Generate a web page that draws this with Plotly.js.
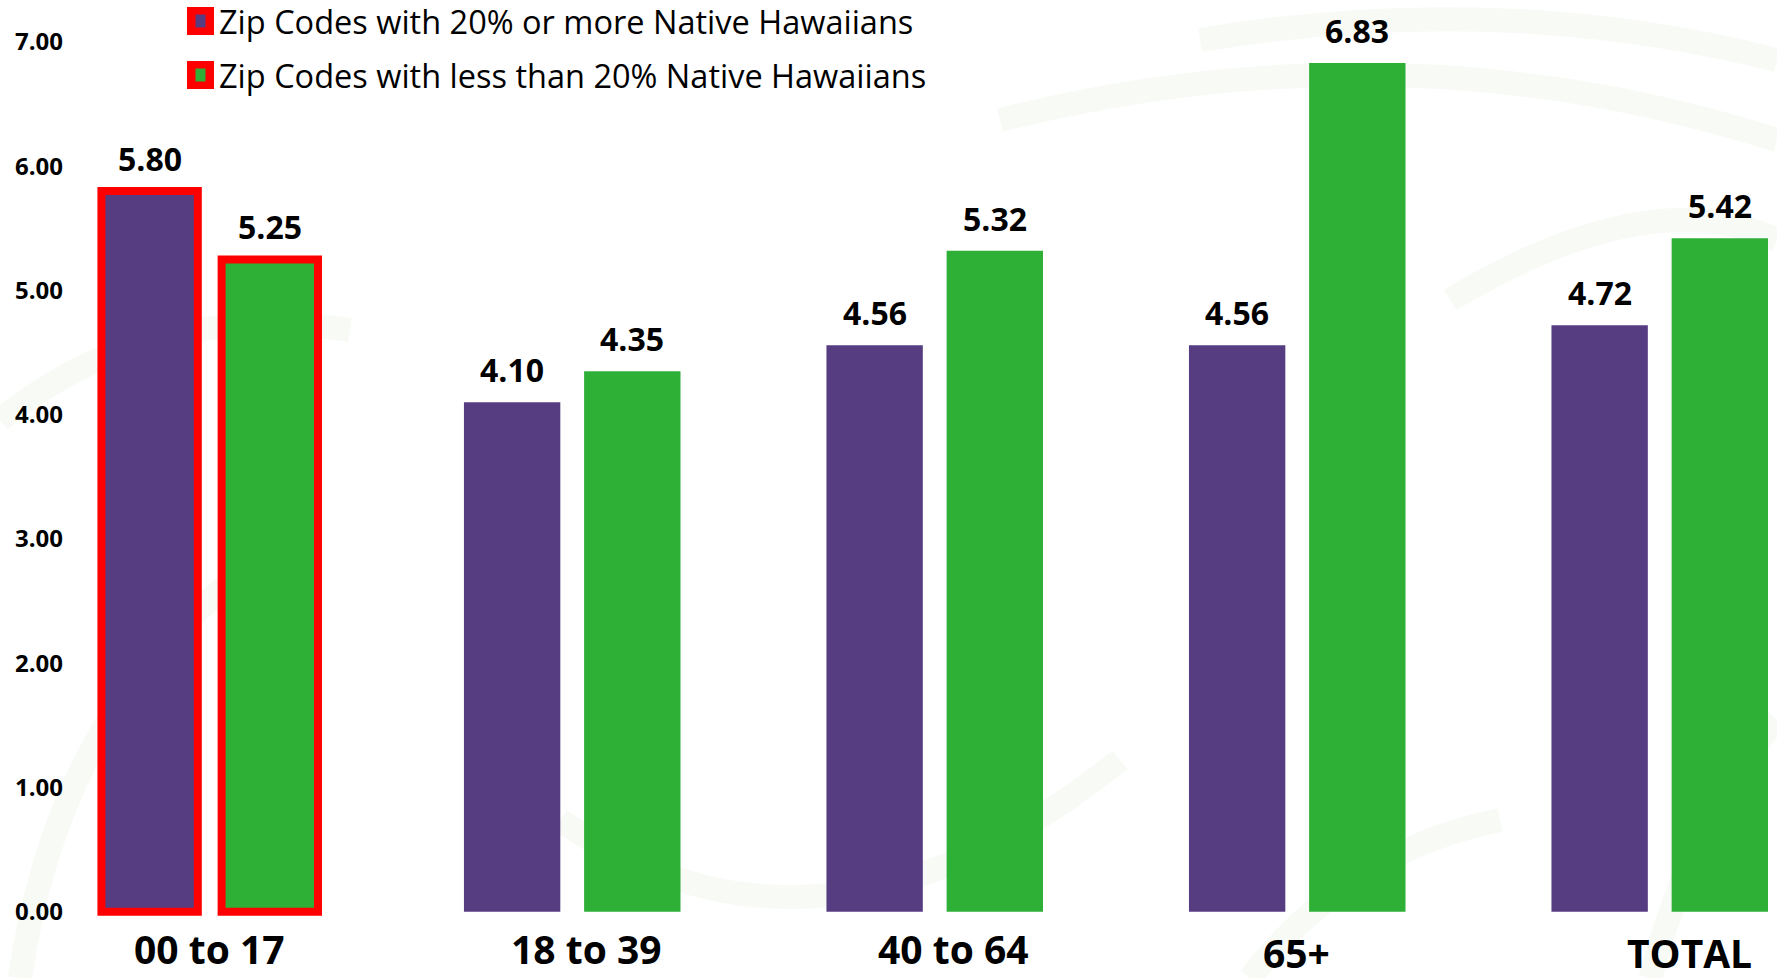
<!DOCTYPE html>
<html>
<head>
<meta charset="utf-8">
<script src="https://cdn.plot.ly/plotly-3.0.1.min.js"></script>
<style>
  html, body { margin: 0; padding: 0; background: #ffffff; }
  #chart { width: 1777px; height: 978px; }
</style>
</head>
<body>
<div id="chart"></div>
<script>
// Age groups along the x axis
const categories = ['00 to 17', '18 to 39', '40 to 64', '65+', 'TOTAL'];

// Series names
const seriesNames = [
  'Zip Codes with 20% or more Native Hawaiians',
  'Zip Codes with less than 20% Native Hawaiians'
];

// Values per age group
const highNativeHawaiian = [5.80, 4.10, 4.56, 4.56, 4.72];
const lowNativeHawaiian = [5.25, 4.35, 5.32, 6.83, 5.42];

// Y axis ticks
const yTicks = [0, 1, 2, 3, 4, 5, 6, 7];

// Category that gets the red outline
const highlighted = '00 to 17';

const PURPLE = '#563d82';
const GREEN = '#2eaf36';
const RED = '#ff0000';

const W = 1777, H = 978;
const M = { l: 70, r: 0, t: 0, b: 60 };
const plotW = W - M.l - M.r;
const plotH = H - M.t - M.b;

const BARGAP = 0.337;
const slot = (1 - BARGAP) / 2;   // width of one bar slot, in category units

// hand-placed category captions: horizontal nudge and vertical centre, in px
const captionNudgeX = [0, 14, 19, -1, 30];
const captionCenterY = [948, 948, 948, 952, 952];

function outlineWidths() {
  return categories.map(c => (c === highlighted ? 8 : 0));
}

const series = [
  { name: seriesNames[0], values: highNativeHawaiian, color: PURPLE, offset: -slot / 2 },
  { name: seriesNames[1], values: lowNativeHawaiian, color: GREEN, offset: slot / 2 }
];

const traces = series.map(s => ({
  type: 'bar',
  name: s.name,
  x: categories,
  y: s.values,
  marker: {
    color: s.color,
    line: { color: RED, width: outlineWidths() }
  },
  hoverinfo: 'x+y+name',
  showlegend: false
}));

// pixel -> paper helpers
const px = v => (v - M.l) / plotW;
const py = v => (H - M.b - v) / plotH;

// value labels above each bar
const annotations = [];
series.forEach(s => {
  s.values.forEach((v, i) => {
    annotations.push({
      x: i + s.offset, y: v, xref: 'x', yref: 'y',
      text: v.toFixed(2), showarrow: false,
      xanchor: 'center', yanchor: 'bottom', yshift: 9,
      font: { family: 'Open Sans', size: 32, weight: 700, color: '#000000' }
    });
  });
});

// category captions under the bars
categories.forEach((c, i) => {
  annotations.push({
    x: i, xref: 'x', xshift: captionNudgeX[i],
    y: py(captionCenterY[i]), yref: 'paper',
    xanchor: 'center', yanchor: 'middle', showarrow: false,
    text: c,
    font: { family: 'Open Sans', size: 39, weight: 700, color: '#000000' }
  });
});

const shapes = [];

// faint decorative swirls in the background
const swirlStyle = { color: 'rgba(240,243,236,0.45)', width: 24 };
const swirls = [
  'M 1200 40 Q 1500 -10 1777 60',
  'M 1000 120 Q 1400 20 1777 140',
  'M 1450 300 Q 1650 180 1777 240',
  'M 560 820 Q 820 1000 1120 760',
  'M 20 978 Q 60 700 260 560',
  'M 0 420 Q 150 300 350 330',
  'M 1650 978 Q 1700 800 1777 720',
  'M 1250 978 Q 1350 850 1500 820'
];
swirls.forEach(p => {
  const pts = p.split(' ');
  // convert a pixel path into paper coordinates
  let out = '';
  for (let k = 0; k < pts.length; k++) {
    const t = pts[k];
    if (t === 'M' || t === 'Q' || t === 'L') { out += t + ' '; continue; }
    const xv = px(parseFloat(t));
    const yv = py(parseFloat(pts[k + 1]));
    out += xv + ',' + yv + ' ';
    k++;
  }
  shapes.push({ type: 'path', xref: 'paper', yref: 'paper', path: out.trim(), line: swirlStyle, layer: 'below' });
});

// key: red tile with a coloured centre, followed by the series name
const keyRows = [21, 75];
series.forEach((s, i) => {
  const cy = keyRows[i];
  shapes.push({
    type: 'rect', xref: 'paper', yref: 'paper',
    x0: px(187), x1: px(214), y0: py(cy - 14), y1: py(cy + 14),
    fillcolor: RED, line: { width: 0 }, layer: 'above'
  });
  shapes.push({
    type: 'rect', xref: 'paper', yref: 'paper',
    x0: px(195.5), x1: px(205.5), y0: py(cy - 6.5), y1: py(cy + 6.5),
    fillcolor: s.color, line: { width: 0 }, layer: 'above'
  });
  annotations.push({
    xref: 'paper', yref: 'paper', x: px(217), y: py(0), yshift: -(cy - 24),
    xanchor: 'left', yanchor: 'top', showarrow: false,
    text: s.name,
    font: { family: 'Open Sans', size: 32.5, color: '#000000' }
  });
});

const layout = {
  width: W, height: H,
  margin: M,
  paper_bgcolor: '#ffffff',
  plot_bgcolor: 'rgba(0,0,0,0)',
  barmode: 'group',
  bargap: BARGAP,
  bargroupgap: 0.198,
  showlegend: false,
  xaxis: {
    type: 'category',
    range: [-0.3854, 4.3235],
    showgrid: false, zeroline: false, showline: false, ticks: '',
    showticklabels: false,
    fixedrange: true
  },
  yaxis: {
    range: [-0.05, 7.338],
    tickvals: yTicks,
    tickformat: '.2f',
    showgrid: false, zeroline: false, showline: false, ticks: '',
    tickfont: { family: 'Open Sans', size: 24, weight: 700, color: '#000000' },
    ticklabelstandoff: 6,
    fixedrange: true
  },
  annotations: annotations,
  shapes: shapes
};

Plotly.newPlot('chart', traces, layout, { displayModeBar: false, staticPlot: true });
</script>
</body>
</html>
